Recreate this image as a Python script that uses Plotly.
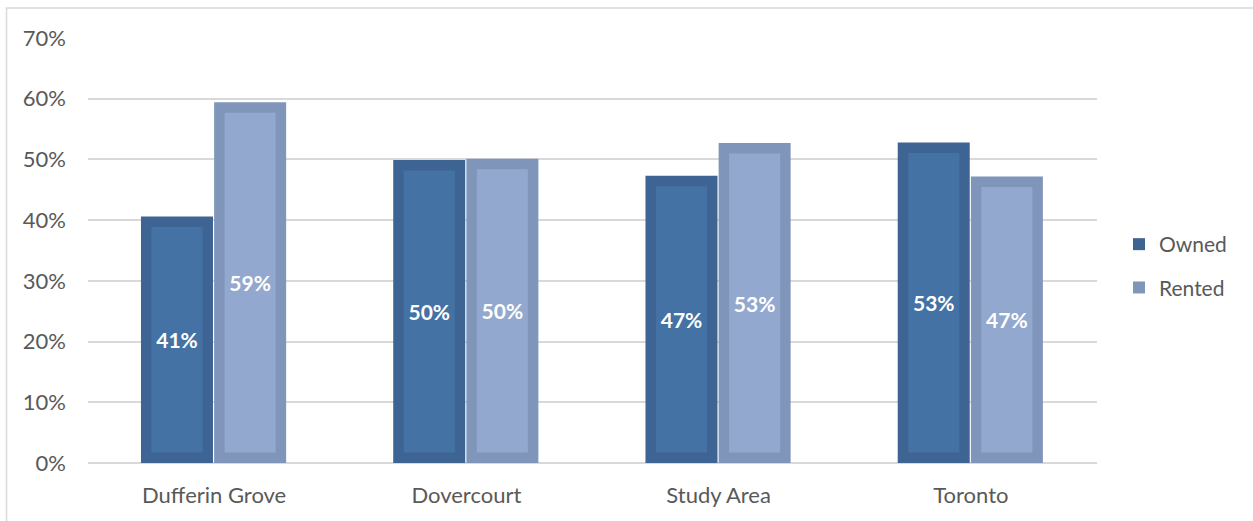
import plotly.graph_objects as go

# Housing tenure share by area
areas = ["Dufferin Grove", "Dovercourt", "Study Area", "Toronto"]
owned = [40.6, 49.9, 47.3, 52.8]
rented = [59.4, 50.1, 52.7, 47.2]
y_ticks = [0, 10, 20, 30, 40, 50, 60, 70]
y_tick_labels = ["0%", "10%", "20%", "30%", "40%", "50%", "60%", "70%"]

FONT = "Lato"
TXT = "#595959"
GRID = "#D9D9D9"

# Outer (frame) and inner (face) colours of each series
OWN_OUT, OWN_IN = "#3E6494", "#4472A4"
REN_OUT, REN_IN = "#7F96BA", "#93A8CE"

BAR_W = 0.2855          # bar width in category units
INSET_X = 0.0416        # bevel inset, category units
INSET_Y = 1.73          # bevel inset, percent units

fig = go.Figure()


def add_series(name, values, offset, c_out, c_in, group):
    # frame bar (carries the legend entry)
    fig.add_trace(go.Bar(
        x=areas, y=values, name=name, legendgroup=group,
        offset=offset, width=BAR_W,
        marker=dict(color=c_out, line=dict(width=0)),
        hoverinfo="skip",
    ))
    # lighter face inset inside the frame, with the centred value label
    fig.add_trace(go.Bar(
        x=areas, y=[v - 2 * INSET_Y for v in values],
        base=[INSET_Y] * len(values),
        offset=offset + INSET_X, width=BAR_W - 2 * INSET_X,
        marker=dict(color=c_in, line=dict(width=0)),
        text=[f"{v:.0f}%" for v in values],
        textposition="inside", insidetextanchor="middle", textangle=0,
        textfont=dict(family=FONT, size=21, color="white", weight="bold"),
        showlegend=False, legendgroup=group, hoverinfo="skip",
    ))


add_series("Owned", owned, -0.29, OWN_OUT, OWN_IN, "own")
add_series("Rented", rented, 0.0, REN_OUT, REN_IN, "ren")

fig.update_layout(
    width=1253, height=521,
    margin=dict(l=88, r=156, t=38, b=58),
    paper_bgcolor="white", plot_bgcolor="white",
    barmode="overlay",
    font=dict(family=FONT, size=22, color=TXT),
    showlegend=True,
    legend=dict(
        x=1.0218, xanchor="left", y=0.4635, yanchor="middle",
        font=dict(family=FONT, size=21, color=TXT),
        tracegroupgap=13, traceorder="grouped",
        bgcolor="rgba(0,0,0,0)",
    ),
    xaxis=dict(
        showgrid=False, showline=False, ticks="",
        ticklabelstandoff=17,
        tickfont=dict(family=FONT, size=22, color=TXT),
    ),
    yaxis=dict(
        range=[0, 70], tickvals=y_ticks, ticktext=y_tick_labels,
        showgrid=True, gridcolor=GRID, gridwidth=1.5,
        zeroline=True, zerolinecolor=GRID, zerolinewidth=1.5,
        showline=False, ticks="", ticklabelstandoff=21,
        tickfont=dict(family=FONT, size=22, color=TXT),
    ),
    shapes=[dict(
        type="rect", xref="paper", yref="paper",
        x0=(6.5 - 88) / 1009, x1=1.3, y0=-0.5, y1=1 + (38 - 8) / 425,
        line=dict(color=GRID, width=1.5), fillcolor="rgba(0,0,0,0)",
        layer="below",
    )],
)

fig.write_html("out.html")
